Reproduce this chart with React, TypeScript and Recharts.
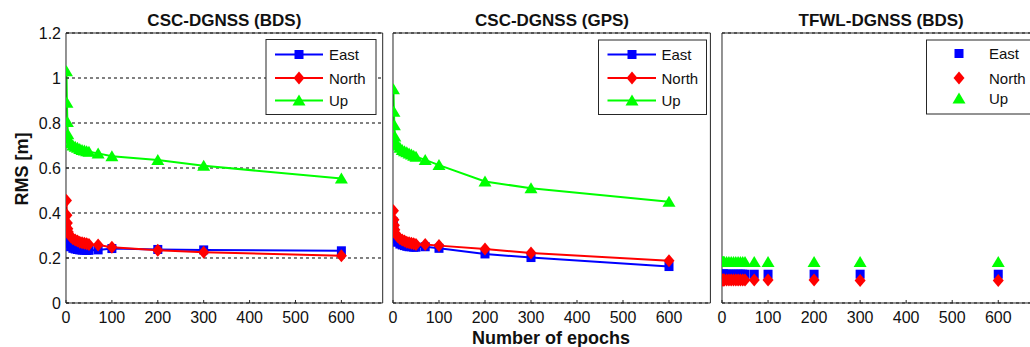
import React from 'react';
import { LineChart, Line, XAxis, YAxis, CartesianGrid } from 'recharts';

// ---------- data ----------
const epochs = [1, 2, 3, 4, 5, 10, 15, 20, 25, 30, 35, 40, 45, 50, 70, 100, 200, 300, 600];

const bdsEast = [0.34, 0.31, 0.29, 0.275, 0.265, 0.25, 0.243, 0.24, 0.238, 0.236, 0.235, 0.235, 0.234, 0.234, 0.236, 0.242, 0.238, 0.236, 0.232];
const bdsNorth = [0.455, 0.39, 0.355, 0.33, 0.315, 0.295, 0.285, 0.28, 0.275, 0.27, 0.268, 0.266, 0.263, 0.26, 0.258, 0.248, 0.234, 0.226, 0.21];
const bdsUp = [1.03, 0.89, 0.805, 0.75, 0.73, 0.71, 0.7, 0.695, 0.69, 0.685, 0.68, 0.678, 0.675, 0.672, 0.665, 0.652, 0.636, 0.61, 0.553];

const gpsEast = [0.36, 0.33, 0.31, 0.295, 0.285, 0.27, 0.262, 0.258, 0.255, 0.252, 0.25, 0.25, 0.248, 0.248, 0.25, 0.243, 0.218, 0.202, 0.162];
const gpsNorth = [0.41, 0.37, 0.345, 0.325, 0.31, 0.295, 0.285, 0.28, 0.275, 0.27, 0.268, 0.265, 0.263, 0.26, 0.26, 0.255, 0.24, 0.222, 0.188];
const gpsUp = [0.95, 0.85, 0.79, 0.74, 0.715, 0.7, 0.69, 0.68, 0.675, 0.67, 0.665, 0.66, 0.655, 0.65, 0.636, 0.613, 0.54, 0.51, 0.45];

const tfwlEast = [0.128, 0.128, 0.128, 0.128, 0.128, 0.128, 0.128, 0.128, 0.128, 0.128, 0.128, 0.128, 0.128, 0.128, 0.128, 0.128, 0.128, 0.128, 0.128];
const tfwlNorth = [0.102, 0.102, 0.102, 0.102, 0.102, 0.102, 0.102, 0.102, 0.102, 0.102, 0.102, 0.102, 0.102, 0.102, 0.102, 0.102, 0.102, 0.1, 0.1];
const tfwlUp = [0.182, 0.182, 0.182, 0.182, 0.182, 0.182, 0.182, 0.182, 0.182, 0.182, 0.182, 0.182, 0.182, 0.182, 0.182, 0.182, 0.182, 0.182, 0.182];

const xTicks = [0, 100, 200, 300, 400, 500, 600];
const yTicks = [0, 0.2, 0.4, 0.6, 0.8, 1, 1.2];
const yTickLabels = ['0', '0.2', '0.4', '0.6', '0.8', '1', '1.2'];
const panelTitles = ['CSC-DGNSS (BDS)', 'CSC-DGNSS (GPS)', 'TFWL-DGNSS (BDS)'];
const seriesNames = ['East', 'North', 'Up'];
const yAxisTitle = 'RMS [m]';
const xAxisTitle = 'Number of epochs';

// ---------- styling ----------
const BLUE = '#0000FF';
const RED = '#FF0000';
const GREEN = '#00FF00';
const AXIS = '#262626';
const FONT = '"Liberation Sans", Arial, Helvetica, sans-serif';
const X_MAX = 690;
const YW = 50;
const RIGHT_M = 9;

const buildRows = (e: number[], n: number[], u: number[]) =>
  epochs.map((x, i) => ({ x, east: e[i], north: n[i], up: u[i] }));

const panels = [
  { left: 66, width: 316.7, rows: buildRows(bdsEast, bdsNorth, bdsUp), lines: true, yLabels: true },
  { left: 393.3, width: 317.4, rows: buildRows(gpsEast, gpsNorth, gpsUp), lines: true, yLabels: false },
  { left: 722.3, width: 317.7, rows: buildRows(tfwlEast, tfwlNorth, tfwlUp), lines: false, yLabels: false },
];

// ---------- markers ----------
const squareEl = (cx: number, cy: number, k?: any) => (
  <rect key={k} x={cx - 4.5} y={cy - 4.5} width={9} height={9} fill={BLUE} />
);
const diamondEl = (cx: number, cy: number, k?: any) => (
  <polygon key={k} points={`${cx},${cy - 6.5} ${cx + 5.5},${cy} ${cx},${cy + 6.5} ${cx - 5.5},${cy}`} fill={RED} />
);
const triangleEl = (cx: number, cy: number, k?: any) => (
  <polygon key={k} points={`${cx},${cy - 6} ${cx + 6.5},${cy + 5} ${cx - 6.5},${cy + 5}`} fill={GREEN} />
);

const makeDot = (fn: (cx: number, cy: number, k?: any) => any) => (p: any) => {
  if (p == null || p.cx == null || p.cy == null) return <g key={p?.key ?? Math.random()} />;
  return fn(p.cx, p.cy, `${p.index}-${p.cx}`);
};

const seriesDefs = [
  { key: 'east', color: BLUE, marker: squareEl },
  { key: 'north', color: RED, marker: diamondEl },
  { key: 'up', color: GREEN, marker: triangleEl },
];

function Panel({ left, width, rows, lines, yLabels }: any) {
  return (
    <div style={{ position: 'absolute', left: left - YW, top: 0 }}>
      <LineChart
        width={YW + width + 1 + RIGHT_M}
        height={347}
        data={rows}
        margin={{ top: 32, right: RIGHT_M, bottom: 14, left: 0 }}
      >
        <CartesianGrid vertical={false} stroke="#000" strokeDasharray="3 3" strokeWidth={1} />
        <XAxis
          dataKey="x"
          type="number"
          domain={[0, X_MAX]}
          allowDataOverflow
          ticks={xTicks}
          interval={0}
          height={30}
          tickSize={-3}
          tickMargin={12}
          axisLine={{ stroke: AXIS }}
          tickLine={{ stroke: AXIS }}
          tick={{ fontSize: 16, fill: '#111', fontFamily: FONT }}
        />
        <XAxis
          xAxisId="top"
          orientation="top"
          dataKey="x"
          type="number"
          domain={[0, X_MAX]}
          allowDataOverflow
          ticks={xTicks}
          interval={0}
          height={1}
          tickSize={-3}
          tick={false}
          axisLine={{ stroke: AXIS }}
          tickLine={{ stroke: AXIS }}
        />
        <YAxis
          type="number"
          domain={[0, 1.2]}
          allowDataOverflow
          ticks={yTicks}
          interval={0}
          width={YW}
          tickSize={-3}
          tickMargin={8}
          axisLine={{ stroke: AXIS }}
          tickLine={{ stroke: AXIS }}
          tickFormatter={(v: number) => {
            const i = yTicks.indexOf(v);
            return i >= 0 ? yTickLabels[i] : String(v);
          }}
          tick={yLabels ? { fontSize: 16, fill: '#111', fontFamily: FONT } : false}
        />
        <YAxis
          yAxisId="right"
          orientation="right"
          type="number"
          domain={[0, 1.2]}
          allowDataOverflow
          ticks={yTicks}
          interval={0}
          width={1}
          tickSize={-3}
          tick={false}
          axisLine={{ stroke: AXIS }}
          tickLine={{ stroke: AXIS }}
        />
        {seriesDefs.map((s) => (
          <Line
            key={s.key}
            dataKey={s.key}
            type="linear"
            stroke={lines ? s.color : 'none'}
            strokeWidth={lines ? 2 : 0}
            dot={makeDot(s.marker)}
            activeDot={false}
            isAnimationActive={false}
          />
        ))}
      </LineChart>
    </div>
  );
}

const legendBoxes = [
  { x: 266, y: 39.5, w: 110, h: 75, lx1: 275, lx2: 323, mx: 299, tx: 329, rowsY: [54.5, 78, 100.5], lines: true },
  { x: 598.5, y: 40, w: 108, h: 74.5, lx1: 607.5, lx2: 656, mx: 632, tx: 661.5, rowsY: [54.5, 78, 100.5], lines: true },
  { x: 926.5, y: 40, w: 110, h: 74, lx1: 0, lx2: 0, mx: 959, tx: 989, rowsY: [53.5, 78, 98.5], lines: false },
];

export default function App() {
  return (
    <div
      style={{
        position: 'absolute',
        left: 0,
        top: 0,
        width: 1030,
        height: 347,
        overflow: 'hidden',
        background: '#fff',
      }}
    >
      {panels.map((p, i) => (
        <Panel key={i} {...p} />
      ))}
      <svg
        width={1030}
        height={347}
        style={{ position: 'absolute', left: 0, top: 0, pointerEvents: 'none' }}
      >
        {panels.map((p, i) => (
          <text
            key={`t${i}`}
            x={p.left + p.width / 2}
            y={26}
            textAnchor="middle"
            fontFamily={FONT}
            fontWeight="bold"
            fontSize={17}
            fill="#111"
          >
            {panelTitles[i]}
          </text>
        ))}
        <text
          transform="translate(27.5,169) rotate(-90)"
          textAnchor="middle"
          fontFamily={FONT}
          fontWeight="bold"
          fontSize={18}
          fill="#111"
        >
          {yAxisTitle}
        </text>
        <text x={551} y={344} textAnchor="middle" fontFamily={FONT} fontWeight="bold" fontSize={18} fill="#111">
          {xAxisTitle}
        </text>
        {legendBoxes.map((b, bi) => (
          <g key={`l${bi}`}>
            <rect x={b.x} y={b.y} width={b.w} height={b.h} fill="#fff" stroke={AXIS} strokeWidth={1} />
            {seriesDefs.map((s, si) => (
              <g key={s.key}>
                {b.lines && (
                  <line x1={b.lx1} x2={b.lx2} y1={b.rowsY[si]} y2={b.rowsY[si]} stroke={s.color} strokeWidth={2} />
                )}
                {s.marker(b.mx, b.rowsY[si])}
                <text x={b.tx} y={b.rowsY[si] + 5.5} fontFamily={FONT} fontSize={15} fill="#111">
                  {seriesNames[si]}
                </text>
              </g>
            ))}
          </g>
        ))}
      </svg>
    </div>
  );
}
